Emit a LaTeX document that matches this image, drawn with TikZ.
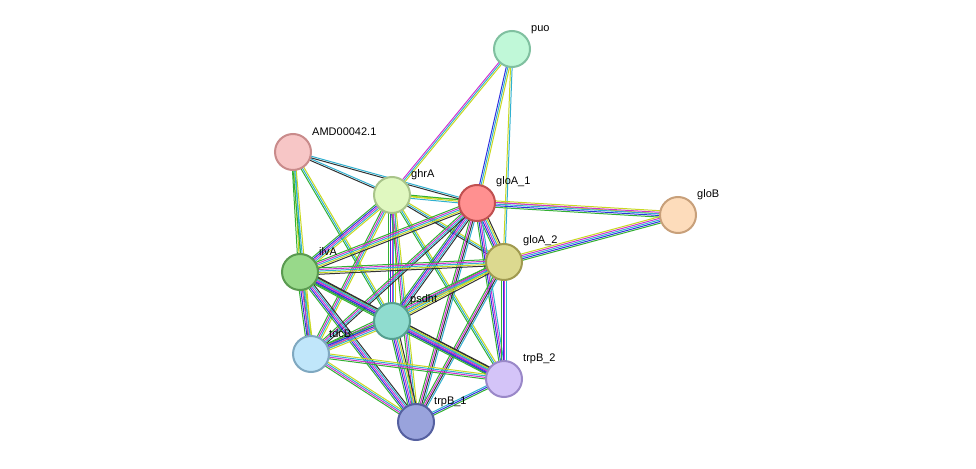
\documentclass[tikz,border=0pt]{standalone}
\usepackage{fontspec}
\setmainfont{Liberation Sans}
\usetikzlibrary{calc}
\definecolor{eg}{HTML}{33B033}
\definecolor{eb}{HTML}{3030E0}
\definecolor{ec}{HTML}{30B0D0}
\definecolor{em}{HTML}{D030D0}
\definecolor{ey}{HTML}{C8D820}
\definecolor{ek}{HTML}{333333}
\tikzset{prot/.style={circle,draw,line width=2pt,minimum size=36pt,inner sep=0pt},
 lbl/.style={font=\fontsize{11}{12}\selectfont,anchor=south west,inner sep=1pt}}
\newcommand\edg[4]{\foreach[count=\i] \c in {#4}{%
 \pgfmathsetmacro\off{(\i-(#3+1)/2)*1.6}%
 \draw[\c,line width=1pt] ($(#1)!\off pt!90:(#2)$) -- ($(#2)!\off pt!-90:(#1)$);}}
\begin{document}
\begin{tikzpicture}[x=1pt,y=-1pt]
\useasboundingbox (0,0) rectangle (976,468);
\coordinate (puo) at (512,49);
\coordinate (AMD) at (293,152);
\coordinate (ghrA) at (392,195);
\coordinate (gloA1) at (477,203);
\coordinate (gloB) at (678,215);
\coordinate (gloA2) at (504,262);
\coordinate (ilvA) at (300,272);
\coordinate (psdht) at (392,321);
\coordinate (tdcB) at (311,354);
\coordinate (trpB2) at (504,379);
\coordinate (trpB1) at (416,422);
% edges
\edg{puo}{ghrA}{3}{em,ec,ey}
\edg{puo}{gloA1}{3}{eb,ec,ey}
\edg{puo}{gloA2}{2}{ey,ec}
\edg{AMD}{ghrA}{2}{ek,ec}
\edg{AMD}{gloA1}{2}{ek,ec}
\edg{AMD}{ilvA}{3}{eg,ey,ec}
\edg{AMD}{tdcB}{3}{eg,ec,ey}
\edg{AMD}{psdht}{3}{eg,ec,ey}
\edg{ghrA}{gloB}{1}{ey}
\edg{ghrA}{gloA1}{3}{ec,ey,eg}
\edg{ghrA}{gloA2}{3}{ek,ec,ey}
\edg{ghrA}{ilvA}{5}{eg,eb,em,ec,ey}
\edg{ghrA}{psdht}{5}{eg,eb,em,ec,ey}
\edg{ghrA}{tdcB}{4}{eg,em,ec,ey}
\edg{ghrA}{trpB1}{4}{eg,em,ec,ey}
\edg{ghrA}{trpB2}{3}{eg,ec,ey}
\edg{gloA1}{gloB}{5}{eg,eb,ec,em,ey}
\edg{gloA1}{gloA2}{6}{eg,eb,em,ec,ey,ek}
\edg{gloA1}{ilvA}{5}{eg,em,ec,ey,ek}
\edg{gloA1}{psdht}{5}{eg,eb,em,ec,ek}
\edg{gloA1}{tdcB}{4}{eg,em,ec,ek}
\edg{gloA1}{trpB1}{4}{eg,em,ek,ec}
\edg{gloA1}{trpB2}{4}{eg,eb,em,ec}
\edg{gloA2}{gloB}{5}{eg,eb,ec,em,ey}
\edg{gloA2}{ilvA}{5}{eg,em,ec,ey,ek}
\edg{gloA2}{psdht}{5}{eg,em,ec,ey,ek}
\edg{gloA2}{tdcB}{4}{eg,em,ec,ey}
\edg{gloA2}{trpB1}{4}{eg,em,ek,ec}
\edg{gloA2}{trpB2}{4}{eg,eb,em,ec}
\edg{ilvA}{psdht}{6}{eg,eb,em,ec,ey,ek}
\edg{ilvA}{tdcB}{5}{eg,eb,em,ec,ey}
\edg{ilvA}{trpB1}{5}{eg,eb,em,ec,ek}
\edg{ilvA}{trpB2}{5}{eg,eb,em,ec,ek}
\edg{psdht}{tdcB}{5}{eg,eb,em,ec,ey}
\edg{psdht}{trpB1}{6}{eg,eb,em,ec,ey,ek}
\edg{psdht}{trpB2}{6}{eg,eb,em,ec,ey,ek}
\edg{tdcB}{trpB1}{4}{eg,em,ec,ey}
\edg{tdcB}{trpB2}{4}{eg,em,ec,ey}
\edg{trpB1}{trpB2}{3}{eg,eb,ec}
% nodes
\node[prot,fill={rgb,255:red,192;green,248;blue,216},draw={rgb,255:red,128;green,192;blue,160}] (npuo) at (puo) {};
\node[prot,fill={rgb,255:red,247;green,198;blue,198},draw={rgb,255:red,201;green,139;blue,139}] (nAMD) at (AMD) {};
\node[prot,fill={rgb,255:red,224;green,248;blue,192},draw={rgb,255:red,169;green,196;blue,138}] (nghrA) at (ghrA) {};
\node[prot,fill={rgb,255:red,255;green,144;blue,144},draw={rgb,255:red,192;green,80;blue,80}] (ngloA1) at (gloA1) {};
\node[prot,fill={rgb,255:red,253;green,220;blue,187},draw={rgb,255:red,200;green,160;blue,122}] (ngloB) at (gloB) {};
\node[prot,fill={rgb,255:red,220;green,217;blue,143},draw={rgb,255:red,160;green,154;blue,80}] (ngloA2) at (gloA2) {};
\node[prot,fill={rgb,255:red,152;green,217;blue,138},draw={rgb,255:red,90;green,154;blue,80}] (nilvA) at (ilvA) {};
\node[prot,fill={rgb,255:red,143;green,220;blue,207},draw={rgb,255:red,85;green,160;blue,144}] (npsdht) at (psdht) {};
\node[prot,fill={rgb,255:red,192;green,230;blue,250},draw={rgb,255:red,127;green,168;blue,192}] (ntdcB) at (tdcB) {};
\node[prot,fill={rgb,255:red,212;green,196;blue,248},draw={rgb,255:red,154;green,136;blue,200}] (ntrpB2) at (trpB2) {};
\node[prot,fill={rgb,255:red,153;green,163;blue,220},draw={rgb,255:red,85;green,96;blue,160}] (ntrpB1) at (trpB1) {};
% labels
\node[lbl] at (530,35) {puo};
\node[lbl] at (311,137) {AMD00042.1};
\node[lbl] at (410,181) {ghrA};
\node[lbl] at (495,188) {gloA\_1};
\node[lbl] at (696,201) {gloB};
\node[lbl] at (522,247) {gloA\_2};
\node[lbl] at (318,257) {ilvA};
\node[lbl] at (409,306) {psdht};
\node[lbl] at (328,339) {tdcB};
\node[lbl] at (522,365) {trpB\_2};
\node[lbl] at (433,408) {trpB\_1};
\end{tikzpicture}
\end{document}
